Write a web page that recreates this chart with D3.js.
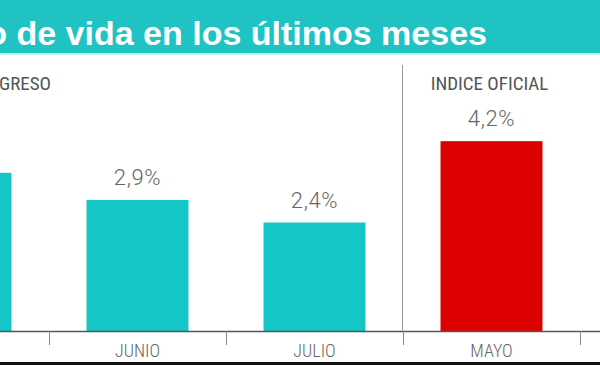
<!DOCTYPE html>
<html><head><meta charset="utf-8">
<script src="https://cdn.jsdelivr.net/npm/d3@7"></script>
<style>
html,body{margin:0;padding:0;background:#fff;overflow:hidden}
svg{display:block}
</style></head>
<body>
<script>
const title = "Costo de vida en los últimos meses";
const sections = ["INDICE CONGRESO", "INDICE OFICIAL"];
const categories = ["c-MAYO", "c-JUNIO", "c-JULIO", "o-MAYO"];
const tickLabels = ["MAYO", "JUNIO", "JULIO", "MAYO"];
const groups = ["congreso", "congreso", "congreso", "oficial"];
const values = [3.5, 2.9, 2.4, 4.2];
const valueLabels = ["3,5%", "2,9%", "2,4%", "4,2%"];

const W = 600, H = 365;
const colors = {congreso: "#14c6c6", oficial: "#dc0000"};

const svg = d3.select("body").append("svg").attr("width", W).attr("height", H);

// header band
svg.append("rect").attr("x", 0).attr("y", 0).attr("width", W).attr("height", 53).attr("fill", "#1fc3c3");
svg.append("rect").attr("x", 0).attr("y", 53).attr("width", W).attr("height", 2).attr("fill", "#c4f0f0");
svg.append("text").attr("x", 487).attr("y", 45)
  .attr("text-anchor", "end")
  .attr("font-family", "'Liberation Sans', Arial, sans-serif")
  .attr("font-weight", "bold").attr("font-size", 34)
  .attr("fill", "#fff").text(title);

const x = d3.scaleBand().domain(categories).range([-128, 580]).paddingInner(0.424).paddingOuter(0.212);
const y = d3.scaleLinear().domain([0, 5]).range([331, 105]);

// bars
svg.selectAll("rect.bar").data(categories).join("rect").attr("class", "bar")
  .attr("x", d => x(d)).attr("width", x.bandwidth())
  .attr("y", (d, i) => y(values[i])).attr("height", (d, i) => y(0) - y(values[i]))
  .attr("fill", (d, i) => colors[groups[i]]);

// value labels
svg.selectAll("text.val").data(categories).join("text").attr("class", "val")
  .attr("x", d => x(d) + x.bandwidth() / 2)
  .attr("y", (d, i) => y(values[i]) - 15)
  .attr("text-anchor", "middle")
  .attr("font-family", "Roboto, 'Liberation Sans', sans-serif")
  .attr("font-weight", 300).attr("font-size", 22).attr("letter-spacing", 0.6)
  .attr("fill", "#666").text((d, i) => valueLabels[i]);

// axis
const axis = d3.axisBottom(x).tickSize(0).tickFormat((d, i) => tickLabels[i]);
const gx = svg.append("g").attr("transform", "translate(0,331)").call(axis);
gx.select(".domain").remove();
gx.selectAll("text").attr("y", 26).attr("dy", 0)
  .attr("font-family", "'Roboto Condensed', 'Liberation Sans Narrow', 'Liberation Sans', sans-serif")
  .attr("font-weight", 300)
  .attr("font-size", 18).attr("fill", "#666");
svg.append("line").attr("x1", 0).attr("x2", W).attr("y1", 331.5).attr("y2", 331.5)
  .attr("stroke", "#555").attr("stroke-width", 1.3);

// band boundary ticks
const bounds = categories.map(c => x(c) - x.step() * x.paddingInner() / 2).concat([x(categories[3]) + x.bandwidth() + x.step() * x.paddingInner() / 2]);
svg.selectAll("line.tk").data(bounds).join("line").attr("class", "tk")
  .attr("x1", d => Math.round(d) + 0.5).attr("x2", d => Math.round(d) + 0.5)
  .attr("y1", 331).attr("y2", 345).attr("stroke", "#888").attr("stroke-width", 1);

// section separator
const sepX = x("o-MAYO") - x.step() * x.paddingInner() / 2;
svg.append("line").attr("x1", Math.round(sepX) - 0.5).attr("x2", Math.round(sepX) - 0.5)
  .attr("y1", 65).attr("y2", 331).attr("stroke", "#999").attr("stroke-width", 1);

// section labels
svg.append("text").attr("x", 51).attr("y", 90).attr("text-anchor", "end")
  .attr("font-family", "'Roboto Condensed', 'Liberation Sans Narrow', sans-serif")
  .attr("font-size", 19).attr("fill", "#555").text(sections[0]);
svg.append("text").attr("x", x("o-MAYO") + x.bandwidth() / 2 - 2).attr("y", 90).attr("text-anchor", "middle")
  .attr("font-family", "'Roboto Condensed', 'Liberation Sans Narrow', sans-serif")
  .attr("font-size", 19).attr("fill", "#555").text(sections[1]);

// bottom black band
svg.append("rect").attr("x", 0).attr("y", 362).attr("width", W).attr("height", 3).attr("fill", "#111");
</script>
</body></html>
